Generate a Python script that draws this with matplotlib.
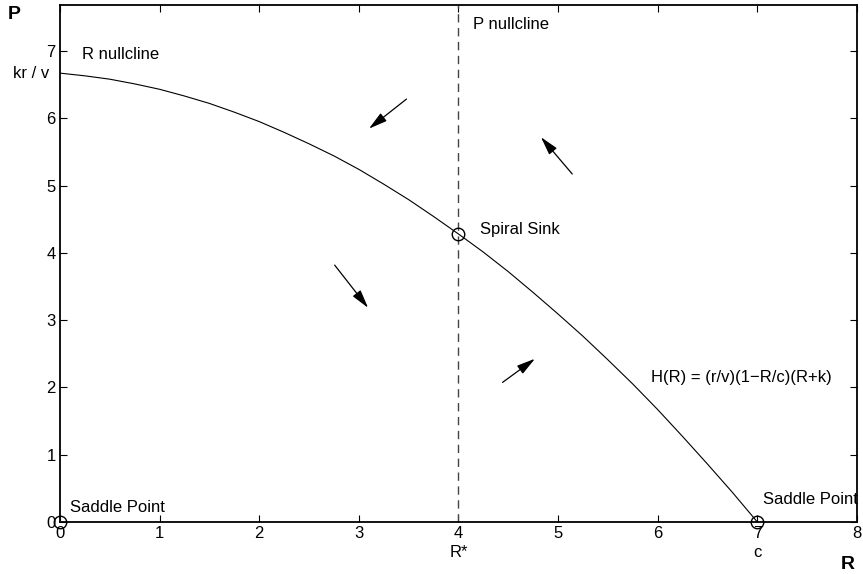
import matplotlib
matplotlib.use("Agg")
import matplotlib.pyplot as plt

plt.rcParams['font.family'] = ['Liberation Sans', 'DejaVu Sans']

# R nullcline
R_vals = [0, 0.25, 0.5, 0.75, 1, 1.25, 1.5, 1.75, 2, 2.25, 2.5, 2.75, 3, 3.25, 3.5, 3.75,
	4, 4.25, 4.5, 4.75, 5, 5.25, 5.5, 5.75, 6, 6.25, 6.5, 6.75, 7]
H_vals = [6.67, 6.63, 6.58, 6.51, 6.43, 6.33, 6.22, 6.09, 5.95, 5.79, 5.62, 5.44, 5.24, 5.02, 4.79, 4.54,
	4.28, 4.01, 3.72, 3.41, 3.09, 2.76, 2.41, 2.05, 1.67, 1.27, 0.86, 0.44, 0.0]

# equilibria
eq_R = [0, 4, 7]
eq_P = [0, 4.28, 0]

# direction arrows (start, end)
arrow_start = [(3.50, 6.31), (5.16, 5.14), (2.74, 3.85), (4.42, 2.05)]
arrow_end = [(3.08, 5.82), (4.81, 5.75), (3.11, 3.15), (4.79, 2.45)]

r_star = 4
xticks = [0, 1, 2, 3, 4, 5, 6, 7, 8]
yticks = [0, 1, 2, 3, 4, 5, 6, 7]

fs = 12

fig = plt.figure(figsize=(8.63, 5.74), dpi=100)
ax = fig.add_axes([0.0695, 0.0906, 0.9235, 0.9004])

ax.plot(R_vals, H_vals, color='black', lw=0.8)
ax.axvline(r_star, color='#444444', lw=1.0, ls=(0, (6, 4)))
ax.plot(eq_R, eq_P, 'o', mfc='none', mec='black', ms=9, mew=1.0, clip_on=False, zorder=5)

for s, e in zip(arrow_start, arrow_end):
	ax.annotate('', xy=e, xytext=s,
		arrowprops=dict(arrowstyle='-|>,head_length=0.75,head_width=0.2', color='black', lw=0.9, mutation_scale=15))

ax.text(0.22, 6.95, 'R nullcline', fontsize=fs, va='center')
ax.text(4.15, 7.39, 'P nullcline', fontsize=fs, va='center')
ax.text(4.22, 4.35, 'Spiral Sink', fontsize=fs, va='center')
ax.text(5.93, 2.14, 'H(R) = (r/v)(1\u2212R/c)(R+k)', fontsize=fs, va='center')
ax.text(0.1, 0.22, 'Saddle Point', fontsize=fs, va='center')
ax.text(7.06, 0.33, 'Saddle Point', fontsize=fs, va='center', clip_on=False)

ax.set_xlim(0, 8)
ax.set_ylim(0, 7.68)
ax.set_xticks(xticks)
ax.set_yticks(yticks)
ax.tick_params(direction='in', top=True, right=True, length=5, labelsize=fs, pad=3)
for sp in ax.spines.values():
	sp.set_linewidth(1.3)

# extra axis labels
ax.text(-0.11, 6.67, 'kr / v', ha='right', va='center', fontsize=fs)
ax.text(4, -0.46, 'R*', ha='center', va='center', fontsize=fs)
ax.text(7, -0.46, 'c', ha='center', va='center', fontsize=fs)
fig.text(0.009, 0.974, 'P', fontsize=14, fontweight='bold', va='center')
fig.text(0.974, 0.016, 'R', fontsize=14, fontweight='bold', va='center')

fig.savefig('out.png', dpi=100)
